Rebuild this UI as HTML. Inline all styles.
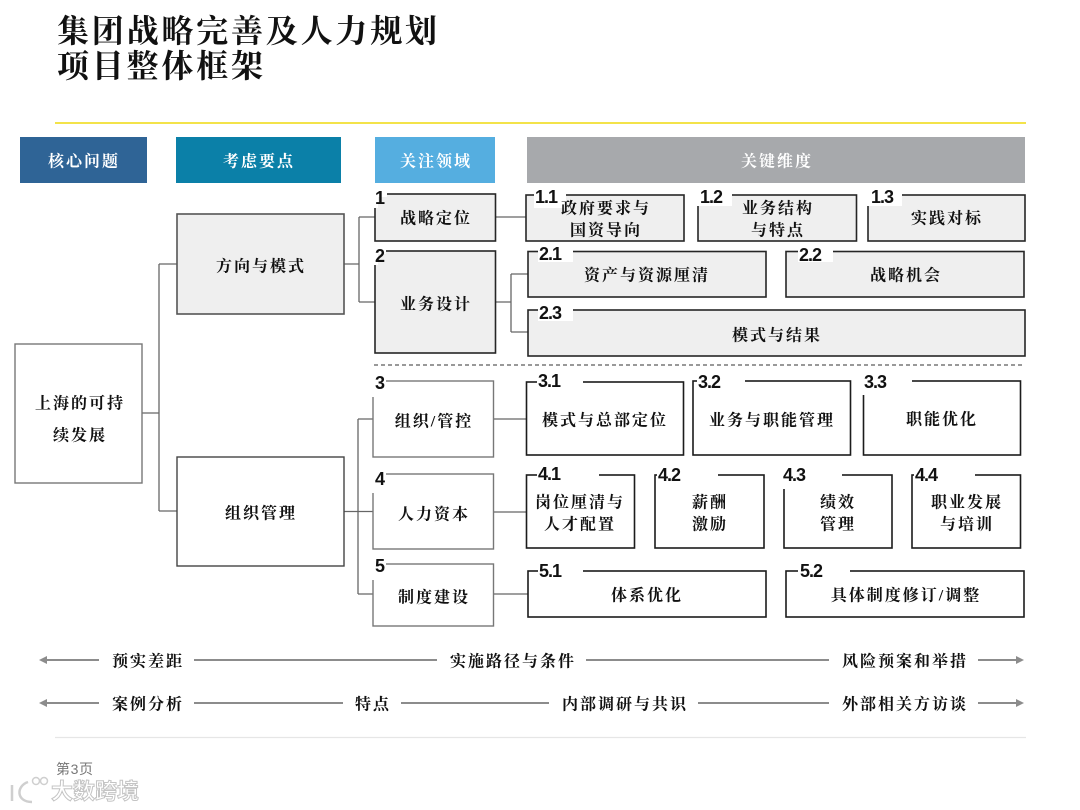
<!DOCTYPE html>
<html lang="zh">
<head>
<meta charset="utf-8">
<style>
html,body{margin:0;padding:0;background:#fff;width:1080px;height:810px;overflow:hidden}
svg{display:block}
text{font-family:"Liberation Serif","Noto Serif CJK SC",serif}
.t{font-size:16px;font-weight:700;letter-spacing:2px;text-anchor:middle;dominant-baseline:central;fill:#111;transform:translateY(2px)}
.h{font-size:16px;font-weight:700;letter-spacing:2px;text-anchor:middle;dominant-baseline:central;fill:#fff;transform:translateY(2px)}
.n{font-family:"Liberation Sans",sans-serif;font-size:18px;font-weight:700;fill:#111;letter-spacing:-1px}
.title{font-size:32px;font-weight:700;letter-spacing:2.8px;fill:#111}
.d{fill:#efefef;stroke:#262626;stroke-width:1.6}
.w{fill:#fff;stroke:#1c1c1c;stroke-width:1.6}
.g{fill:#fff;stroke:#777;stroke-width:1.4}
.c{fill:none;stroke:#666;stroke-width:1.3}
.a{stroke:#8c8c8c;stroke-width:2;fill:none}
.k{fill:#fff}
</style>
</head>
<body>
<svg width="1080" height="810" viewBox="0 0 1080 810" xmlns="http://www.w3.org/2000/svg">
<rect width="1080" height="810" fill="#fff"/>

<text class="title" x="57" y="42">集团战略完善及人力规划</text>
<text class="title" x="57" y="77">项目整体框架</text>
<line x1="55" y1="123" x2="1026" y2="123" stroke="#f3e34a" stroke-width="2"/>

<!-- Headers -->
<rect x="20" y="137" width="127" height="46" fill="#2f6496"/>
<rect x="176" y="137" width="165" height="46" fill="#0b80a8"/>
<rect x="375" y="137" width="120" height="46" fill="#55aee0"/>
<rect x="527" y="137" width="498" height="46" fill="#a7a9ac"/>
<text class="h" x="84" y="160">核心问题</text>
<text class="h" x="259" y="160">考虑要点</text>
<text class="h" x="436" y="160">关注领域</text>
<text class="h" x="777" y="160">关键维度</text>

<!-- Connectors -->
<path class="c" d="M142 413H159M159 264V511M159 264H177M159 511H177"/>
<path class="c" d="M344 264H359M359 217V302M359 217H375M359 302H375"/>
<path class="c" d="M344 511.500H373M358 419V594M358 419H373M358 594H373"/>
<path class="c" d="M495 217H526M495 302H511M511 274V332M511 274H528M511 332H528"/>
<path class="c" d="M493 419H527M493 512H527M493 594H528"/>

<!-- Left boxes -->
<rect class="g" x="15" y="344" width="127" height="139"/>
<rect class="d" style="stroke:#555" x="177" y="214" width="167" height="100"/>
<rect class="g" style="stroke:#444" x="177" y="457" width="167" height="109"/>
<text class="t" x="80" y="402">上海的可持</text>
<text class="t" x="80" y="434">续发展</text>
<text class="t" x="261" y="265">方向与模式</text>
<text class="t" x="261" y="512">组织管理</text>

<!-- Upper section -->
<rect class="d" x="375" y="194" width="120.500" height="47"/>
<rect class="d" x="375" y="251" width="120.500" height="102"/>
<rect class="d" x="526" y="195" width="158" height="46"/>
<rect class="d" x="698" y="195" width="158.500" height="46"/>
<rect class="d" x="868" y="195" width="157" height="46"/>
<rect class="d" x="528" y="251.500" width="238" height="45.500"/>
<rect class="d" x="786" y="251.500" width="238" height="45.500"/>
<rect class="d" x="528" y="310" width="497" height="46"/>

<line x1="374" y1="365" x2="1025" y2="365" stroke="#333" stroke-width="1" stroke-dasharray="4 3"/>

<!-- Lower section -->
<rect class="g" x="373" y="381" width="120.500" height="76"/>
<rect class="g" x="373" y="474" width="120.500" height="75"/>
<rect class="g" x="373" y="564" width="120.500" height="62"/>
<rect class="w" x="526.500" y="382" width="157" height="73"/>
<rect class="w" x="693" y="381" width="157.500" height="74"/>
<rect class="w" x="863.500" y="381" width="157" height="74"/>
<rect class="w" x="526.500" y="475" width="108" height="73"/>
<rect class="w" x="655" y="475" width="109" height="73"/>
<rect class="w" x="784" y="475" width="108" height="73"/>
<rect class="w" x="912" y="475" width="108.500" height="73"/>
<rect class="w" x="528" y="571" width="238" height="46"/>
<rect class="w" x="786" y="571" width="238" height="46"/>

<!-- Knockouts -->
<rect class="k" x="373" y="192" width="14" height="5"/><rect class="k" x="373" y="192" width="5" height="16"/>
<rect class="k" x="373" y="249" width="13" height="5"/><rect class="k" x="373" y="249" width="5" height="16"/>
<rect class="k" x="534" y="192" width="32" height="16"/>
<rect class="k" x="696" y="192" width="36" height="14"/>
<rect class="k" x="866" y="192" width="36" height="14"/>
<rect class="k" x="538" y="249" width="35" height="13"/>
<rect class="k" x="798" y="249" width="35" height="13"/>
<rect class="k" x="538" y="307" width="35" height="14"/>
<rect class="k" x="371" y="379" width="15" height="5"/><rect class="k" x="371" y="379" width="5" height="18"/>
<rect class="k" x="371" y="472" width="15" height="5"/><rect class="k" x="371" y="472" width="5" height="21"/>
<rect class="k" x="371" y="562" width="15" height="5"/><rect class="k" x="371" y="562" width="5" height="18"/>
<rect class="k" x="537" y="379" width="46" height="7"/>
<rect class="k" x="697" y="378" width="48" height="8"/>
<rect class="k" x="861" y="378" width="51" height="17"/>
<rect class="k" x="537" y="472" width="62" height="7"/>
<rect class="k" x="657" y="472" width="61" height="7"/>
<rect class="k" x="782" y="472" width="60" height="17"/>
<rect class="k" x="914" y="472" width="61" height="7"/>
<rect class="k" x="538" y="568" width="45" height="7"/>
<rect class="k" x="798" y="568" width="52" height="7"/>

<!-- Numbers -->
<text class="n" x="375" y="204">1</text>
<text class="n" x="375" y="262">2</text>
<text class="n" x="535" y="203">1.1</text>
<text class="n" x="700" y="203">1.2</text>
<text class="n" x="871" y="203">1.3</text>
<text class="n" x="539" y="260">2.1</text>
<text class="n" x="799" y="261">2.2</text>
<text class="n" x="539" y="319">2.3</text>
<text class="n" x="375" y="389">3</text>
<text class="n" x="538" y="387">3.1</text>
<text class="n" x="698" y="388">3.2</text>
<text class="n" x="864" y="388">3.3</text>
<text class="n" x="375" y="485">4</text>
<text class="n" x="538" y="480">4.1</text>
<text class="n" x="658" y="481">4.2</text>
<text class="n" x="783" y="481">4.3</text>
<text class="n" x="915" y="481">4.4</text>
<text class="n" x="375" y="572">5</text>
<text class="n" x="539" y="577">5.1</text>
<text class="n" x="800" y="577">5.2</text>

<!-- Labels -->
<text class="t" x="436" y="217">战略定位</text>
<text class="t" x="436" y="303">业务设计</text>
<text class="t" x="606" y="207">政府要求与</text>
<text class="t" x="606" y="229">国资导向</text>
<text class="t" x="778" y="207">业务结构</text>
<text class="t" x="778" y="229">与特点</text>
<text class="t" x="947" y="217">实践对标</text>
<text class="t" x="647" y="274">资产与资源厘清</text>
<text class="t" x="906" y="274">战略机会</text>
<text class="t" x="777" y="334">模式与结果</text>
<text class="t" x="434" y="420">组织/管控</text>
<text class="t" x="434" y="513">人力资本</text>
<text class="t" x="434" y="596">制度建设</text>
<text class="t" x="605" y="419">模式与总部定位</text>
<text class="t" x="772" y="419">业务与职能管理</text>
<text class="t" x="942" y="418">职能优化</text>
<text class="t" x="580" y="501">岗位厘清与</text>
<text class="t" x="580" y="523">人才配置</text>
<text class="t" x="710" y="501">薪酬</text>
<text class="t" x="710" y="523">激励</text>
<text class="t" x="838" y="501">绩效</text>
<text class="t" x="838" y="523">管理</text>
<text class="t" x="967" y="501">职业发展</text>
<text class="t" x="967" y="523">与培训</text>
<text class="t" x="647" y="594">体系优化</text>
<text class="t" x="906" y="594">具体制度修订/调整</text>

<!-- Bottom rows -->
<path class="a" d="M46 660H99M194 660H437M586 660H829M978 660H1017"/>
<path class="a" d="M46 703H99M194 703H343M401 703H549M698 703H829M978 703H1017"/>
<polygon points="39,660 47,656 47,664" fill="#8c8c8c"/>
<polygon points="39,703 47,699 47,707" fill="#8c8c8c"/>
<polygon points="1024,660 1016,656 1016,664" fill="#8c8c8c"/>
<polygon points="1024,703 1016,699 1016,707" fill="#8c8c8c"/>
<text class="t" x="148" y="660">预实差距</text>
<text class="t" x="513" y="660">实施路径与条件</text>
<text class="t" x="905" y="660">风险预案和举措</text>
<text class="t" x="148" y="703">案例分析</text>
<text class="t" x="373" y="703">特点</text>
<text class="t" x="625" y="703">内部调研与共识</text>
<text class="t" x="905" y="703">外部相关方访谈</text>

<line x1="55" y1="737.500" x2="1026" y2="737.500" stroke="#e6e6e6" stroke-width="1.200"/>

<!-- Footer -->
<text x="56" y="774" font-size="14" fill="#777" letter-spacing="0.6" style="font-family:'Liberation Sans','Noto Sans CJK SC',sans-serif">第3页</text>
<g fill="none" stroke="#cfcfcf" stroke-width="2.500">
<path d="M12 785V801M28 782C16 786 16 802 32 802"/>
<circle cx="36" cy="781" r="3.500" stroke-width="1.500"/><circle cx="44" cy="781" r="3.500" stroke-width="1.500"/>
</g>
<text x="51" y="799" font-size="22" font-weight="700" fill="#fff" stroke="#c4c4c4" stroke-width="1" style="font-family:'Liberation Sans','Noto Sans CJK SC',sans-serif">大数跨境</text>
</svg>
</body>
</html>
